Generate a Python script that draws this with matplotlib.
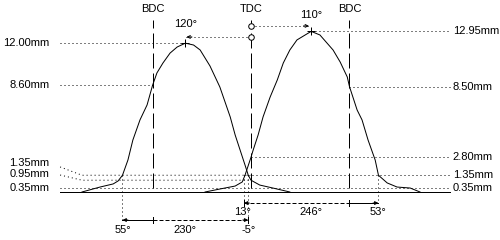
import matplotlib
matplotlib.use('Agg')
import matplotlib.pyplot as plt

# crank angle in degrees (TDC = 0), lift in mm
exh_deg = [-309, -276, -252, -243, -235, -225, -216, -203, -190, -180, -172, -161, -148, -135,
           -120, -105, -93, -75, -57, -38, -29, -20, -11, -5, 0, 16, 40, 71]
exh_lift = [0, 0.40, 0.65, 0.89, 1.35, 2.58, 4.19, 5.81, 7.02, 8.60, 9.60, 10.40, 11.20, 11.69,
            12.00, 11.85, 11.45, 10.16, 8.47, 6.05, 4.60, 3.39, 2.18, 1.35, 0.95, 0.56, 0.32, 0]

int_deg = [-84, -57, -29, -16, -11, 0, 4, 13, 22, 35, 48, 59, 71, 84, 99, 110, 126, 150, 163,
           176, 180, 194, 203, 214, 227, 233, 249, 267, 291, 309]
int_lift = [0, 0.24, 0.48, 0.81, 1.35, 2.80, 3.39, 4.60, 6.05, 7.66, 9.03, 10.40, 11.45, 12.26,
            12.66, 12.95, 12.66, 11.45, 10.48, 9.27, 8.50, 6.61, 5.81, 4.19, 2.58, 1.35, 0.73,
            0.40, 0.32, 0]

exh_peak = (-120, 12.00)
int_peak = (110, 12.95)
exh_timing = (-235, -5)     # open, close at 1.35 mm
int_timing = (-13, 233)
exh_levels = [12.00, 8.60, 1.35, 0.95, 0.35]
int_levels = [12.95, 8.50, 2.80, 1.35, 0.35]
base_range = [-349, 364]

fs = 8
plt.rcParams['font.family'] = ['Liberation Sans', 'DejaVu Sans']
fig = plt.figure(figsize=(5, 2.4), dpi=100)
ax = fig.add_axes([0, 0, 1, 1])
ax.set_xlim(-458.9, 455.2)
ax.set_ylim(-3.87, 15.48)
ax.axis('off')

lw = 0.72
dot = (0, (1, 3))
dash = (0, (15, 5))
k = dict(color='k', lw=lw)

# baseline and lift curves
ax.plot(base_range, [0, 0], **k)
ax.plot(exh_deg, exh_lift, **k)
ax.plot(int_deg, int_lift, **k)

# BDC / TDC lines
for xx, name in [(-180, 'BDC'), (0, 'TDC'), (180, 'BDC')]:
    ax.plot([xx, xx], [0.3, 13.9], ls=dash, **k)
    ax.text(xx, 14.76, name, ha='center', va='center', fontsize=fs)

# left level lines
lx = base_range[0]
ax.plot([lx, exh_peak[0]], [exh_levels[0]] * 2, ls=dot, **k)
ax.plot([lx, -180], [exh_levels[1]] * 2, ls=dot, **k)
ax.plot([lx, -309, 0], [2.02, exh_levels[2], exh_levels[2]], ls=dot, **k)
ax.plot([lx, -309, 0], [1.37, exh_levels[3], exh_levels[3]], ls=dot, **k)
ax.plot([lx, 0], [exh_levels[4]] * 2, ls=dot, **k)
lab_y = [exh_levels[0], exh_levels[1], 2.34, 1.45, exh_levels[4]]
for v, yy in zip(exh_levels, lab_y):
    ax.text(-369, yy, '%.2fmm' % v, ha='right', va='center', fontsize=fs)

# right level lines
rx = 369
starts = [int_peak[0], 180, 0, int_timing[0], 0]
for v, s in zip(int_levels, starts):
    ax.plot([s, rx - 3], [v, v], ls=dot, **k)
    ax.text(rx, v, '%.2fmm' % v, ha='left', va='center', fontsize=fs)

# peak markers and centreline arrows
ax.plot(*exh_peak, marker='+', ms=6, mew=lw, color='k')
ax.plot(*int_peak, marker='+', ms=6, mew=lw, color='k')
ax.plot([0, exh_peak[0]], [12.5, 12.5], ls=dot, **k)
ax.plot([0, int_peak[0]], [13.39, 13.39], ls=dot, **k)
ax.annotate('', xy=(exh_peak[0] + 2, 12.5), xytext=(exh_peak[0] + 12, 12.5),
            arrowprops=dict(arrowstyle='->', lw=lw, mutation_scale=5, shrinkA=0, shrinkB=0))
ax.annotate('', xy=(int_peak[0] - 4, 13.39), xytext=(int_peak[0] - 14, 13.39),
            arrowprops=dict(arrowstyle='->', lw=lw, mutation_scale=5, shrinkA=0, shrinkB=0))
ax.plot([0, 0], [12.5, 13.39], 'o', ms=4, mfc='white', mec='k', mew=lw)
ax.text(exh_peak[0], 13.55, '%d°' % -exh_peak[0], ha='center', va='center', fontsize=fs)
ax.text(int_peak[0], 14.3, '%d°' % int_peak[0], ha='center', va='center', fontsize=fs)

# timing drop lines
ax.plot([exh_timing[0]] * 2, [1.35, -2.3], ls=dot, **k)
ax.plot([exh_timing[1]] * 2, [1.35, -2.5], ls=dot, **k)
ax.plot([int_timing[0]] * 2, [1.35, -0.9], ls=dot, **k)
ax.plot([int_timing[1]] * 2, [1.35, -0.9], ls=dot, **k)


def dim_line(a, b, yy, solid_left):
    if solid_left:
        ax.plot([a, -180], [yy, yy], **k)
        ax.plot([-180, b], [yy, yy], ls=(0, (4, 2)), **k)
        ticks = [-180, b]
    else:
        ax.plot([a, 180], [yy, yy], ls=(0, (4, 2)), **k)
        ax.plot([180, b], [yy, yy], **k)
        ticks = [a, 180]
    for t in ticks:
        ax.plot([t, t], [yy - 0.25, yy + 0.25], **k)
    for tip, tail in [(a, a + 10), (b, b - 10)]:
        ax.annotate('', xy=(tip, yy), xytext=(tail, yy),
                    arrowprops=dict(arrowstyle='-|>', lw=lw, mutation_scale=5,
                                    shrinkA=0, shrinkB=0, color='k'))


dim_line(exh_timing[0], exh_timing[1], -2.26, True)
dim_line(int_timing[0], int_timing[1], -0.89, False)

ya = -3.06
ax.text(exh_timing[0], ya, '%d°' % (-180 - exh_timing[0]), ha='center', va='center', fontsize=fs)
ax.text((exh_timing[0] + exh_timing[1]) / 2, ya, '%d°' % (exh_timing[1] - exh_timing[0]),
        ha='center', va='center', fontsize=fs)
ax.text(exh_timing[1], ya, '%d°' % exh_timing[1], ha='center', va='center', fontsize=fs)
yb = -1.61
ax.text(int_timing[0] - 3, yb, '%d°' % -int_timing[0], ha='center', va='center', fontsize=fs)
ax.text((int_timing[0] + int_timing[1]) / 2, yb, '%d°' % (int_timing[1] - int_timing[0]),
        ha='center', va='center', fontsize=fs)
ax.text(int_timing[1], yb, '%d°' % (int_timing[1] - 180), ha='center', va='center', fontsize=fs)

fig.savefig('out.png', dpi=100, facecolor='white')
